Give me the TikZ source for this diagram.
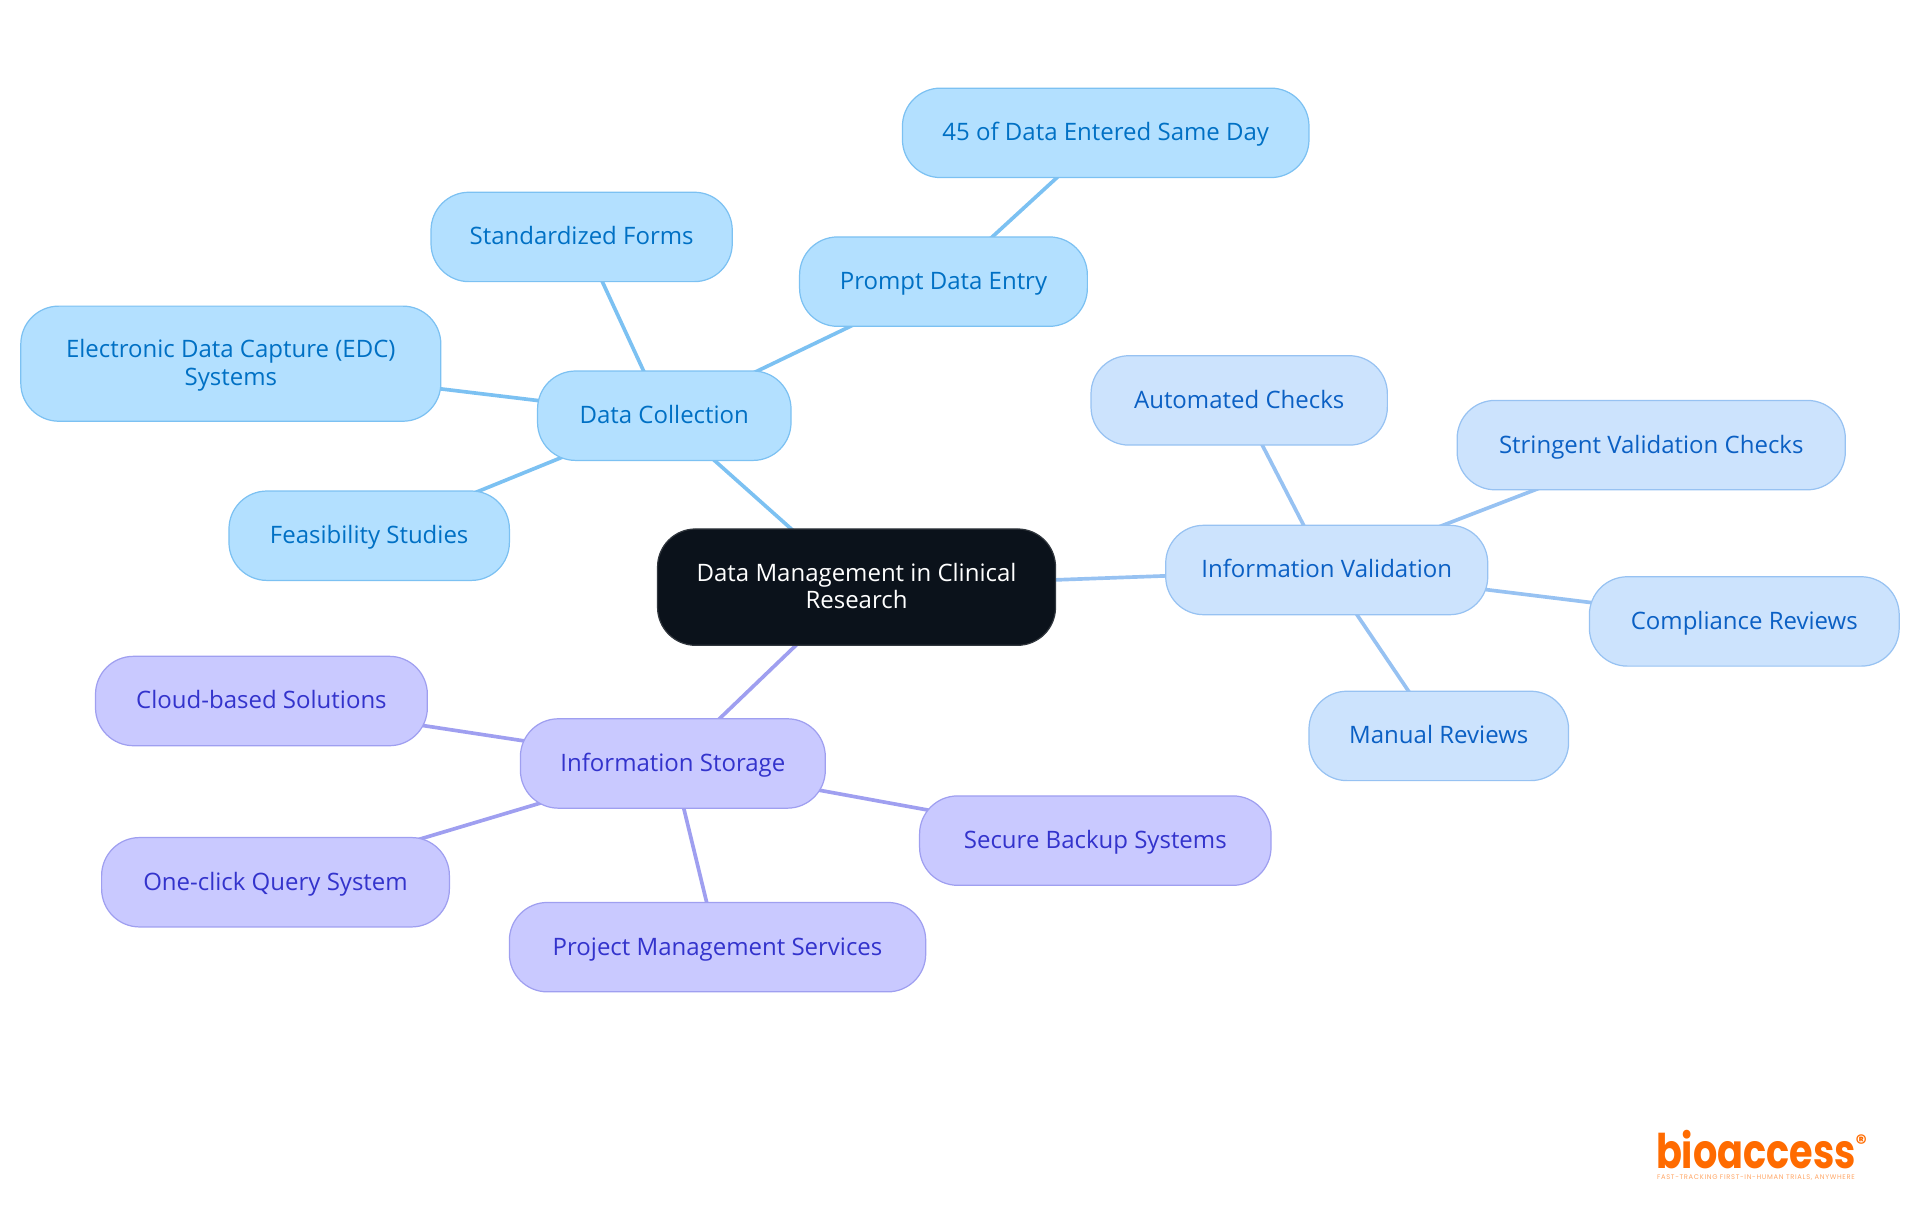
\documentclass[tikz,border=0pt]{standalone}
\usepackage{fontspec}
\setmainfont{Open Sans}
\newfontfamily\logofont[FakeStretch=0.8]{Poppins}
\newfontfamily\regfont{Poppins}
\newfontfamily\tagfont[LetterSpace=10]{Poppins}
\usetikzlibrary{backgrounds}
\definecolor{rootfill}{HTML}{0B121B}
\definecolor{collectfill}{HTML}{B3E0FF}
\definecolor{collectline}{HTML}{7CC1F2}
\definecolor{collecttext}{HTML}{0070C4}
\definecolor{validfill}{HTML}{CCE3FD}
\definecolor{validline}{HTML}{97C2F2}
\definecolor{validtext}{HTML}{0B60C4}
\definecolor{storefill}{HTML}{C9C9FF}
\definecolor{storeline}{HTML}{9F9FF0}
\definecolor{storetext}{HTML}{3333CC}
\definecolor{logoorange}{HTML}{FF6B00}
\tikzset{
  pill/.style={shape=rectangle, rounded corners=31pt, line width=1pt, inner sep=0pt, align=center, text height=16.5pt, text depth=3.5pt, font=\fontsize{19.6}{22.5}\selectfont},
  twolines/.style={text height=38.5pt},
  rootnode/.style={pill, fill=rootfill, draw=rootfill!85!white, text=white},
  collect/.style={pill, fill=collectfill, draw=collectline, text=collecttext},
  valid/.style={pill, fill=validfill, draw=validline, text=validtext},
  store/.style={pill, fill=storefill, draw=storeline, text=storetext},
  link/.style={line width=3pt}
}
\begin{document}
\begin{tikzpicture}[x=1pt, y=-1pt]
\useasboundingbox (0,0) rectangle (1568,992.25);
\node[rootnode, twolines, minimum width=325pt, minimum height=95pt] (root) at (699.5,479.5) {Data Management in Clinical\\Research};
\node[collect, minimum width=207pt, minimum height=73pt] (collection) at (542.5,339.5) {Data Collection};
\node[collect, minimum width=246pt, minimum height=73pt] (forms) at (475,193.5) {Standardized Forms};
\node[collect, twolines, minimum width=343pt, minimum height=94pt] (edc) at (188.5,297) {Electronic Data Capture (EDC)\\Systems};
\node[collect, minimum width=229pt, minimum height=73pt] (feasibility) at (301.5,437.5) {Feasibility Studies};
\node[collect, minimum width=235pt, minimum height=73pt] (prompt) at (770.5,230) {Prompt Data Entry};
\node[collect, minimum width=332pt, minimum height=73pt] (sameday) at (903,108.5) {45 of Data Entered Same Day};
\node[valid, minimum width=263pt, minimum height=73pt] (validation) at (1083.5,465.5) {Information Validation};
\node[valid, minimum width=242pt, minimum height=73pt] (automated) at (1012,327) {Automated Checks};
\node[valid, minimum width=317pt, minimum height=73pt] (stringent) at (1348.5,363.5) {Stringent Validation Checks};
\node[valid, minimum width=253pt, minimum height=73pt] (compliance) at (1424.5,507.5) {Compliance Reviews};
\node[valid, minimum width=212pt, minimum height=73pt] (manual) at (1175,601) {Manual Reviews};
\node[store, minimum width=249pt, minimum height=73pt] (storage) at (549.5,623.5) {Information Storage};
\node[store, minimum width=271pt, minimum height=73pt] (cloud) at (213.5,572.5) {Cloud-based Solutions};
\node[store, minimum width=284pt, minimum height=73pt] (oneclick) at (225,720.5) {One-click Query System};
\node[store, minimum width=340pt, minimum height=73pt] (project) at (586,773.5) {Project Management Services};
\node[store, minimum width=287pt, minimum height=73pt] (backup) at (894.5,686.5) {Secure Backup Systems};
\node[text=logoorange, inner sep=0pt, font=\logofont\bfseries\fontsize{39}{39}\selectfont] (logo) at (1434,938.5) {bioaccess};
\node[text=logoorange, inner sep=0pt, font=\regfont\bfseries\fontsize{18}{18}\selectfont] (registered) at (1520,933) {®};
\node[text=logoorange!60, inner sep=0pt, font=\tagfont\fontsize{5.5}{5.5}\selectfont] (tagline) at (1434,961.5) {FAST-TRACKING FIRST-IN-HUMAN TRIALS, ANYWHERE};
\begin{pgfonlayer}{background}
\path [-, link, draw=collectline] (root.center) edge (collection.center);
\path [-, link, draw=collectline] (collection.center) edge (forms.center);
\path [-, link, draw=collectline] (collection.center) edge (edc.center);
\path [-, link, draw=collectline] (collection.center) edge (feasibility.center);
\path [-, link, draw=collectline] (collection.center) edge (prompt.center);
\path [-, link, draw=collectline] (prompt.center) edge (sameday.center);
\path [-, link, draw=validline] (root.center) edge (validation.center);
\path [-, link, draw=validline] (validation.center) edge (automated.center);
\path [-, link, draw=validline] (validation.center) edge (stringent.center);
\path [-, link, draw=validline] (validation.center) edge (compliance.center);
\path [-, link, draw=validline] (validation.center) edge (manual.center);
\path [-, link, draw=storeline] (root.center) edge (storage.center);
\path [-, link, draw=storeline] (storage.center) edge (cloud.center);
\path [-, link, draw=storeline] (storage.center) edge (oneclick.center);
\path [-, link, draw=storeline] (storage.center) edge (project.center);
\path [-, link, draw=storeline] (storage.center) edge (backup.center);
\end{pgfonlayer}
\end{tikzpicture}
\end{document}
